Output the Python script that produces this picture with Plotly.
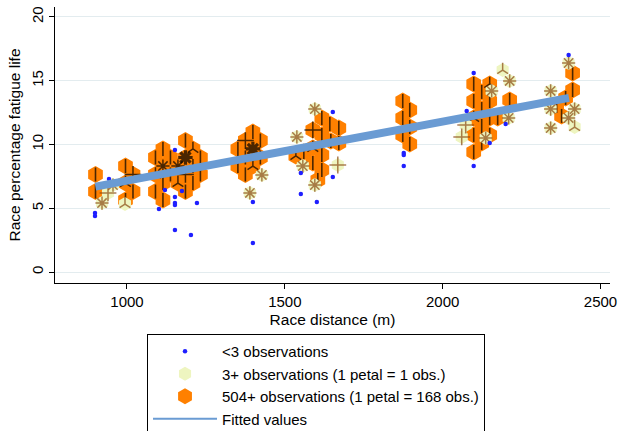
import plotly.graph_objects as go

# ---------------- data ----------------
# sparse observations (<3 observations)
sparse_x = [898.7, 898.7, 943.0, 1151.9, 1120.3, 1174.1, 1151.9, 1151.9, 1151.9, 1221.6,
            1101.3, 1151.9, 1202.6, 1398.8, 1398.8, 1652.0, 1550.7, 1652.0, 1550.7, 1601.4,
            1876.7, 1876.7, 1876.7, 2098.3, 2076.1, 2199.5, 2148.9, 2098.3, 2398.9]
sparse_y = [4.63, 4.39, 7.29, 9.57, 6.43, 6.35, 5.88, 5.41, 5.25, 5.41,
            4.94, 3.29, 2.90, 5.49, 2.27, 12.55, 7.76, 7.45, 6.12, 5.49,
            9.33, 9.18, 8.31, 15.61, 12.63, 11.61, 10.12, 8.31, 17.02]

# light sunflowers (3+ observations, 1 petal = 1 obs.)
light_x = [939.9, 955.7, 920.9, 993.7, 1427.3, 1389.3, 1595.0, 1538.1, 1557.0, 1595.0,
           1667.8, 2190.0, 2212.2, 2155.2, 2209.0, 2072.9, 2060.3, 2136.2, 2398.9, 2342.0,
           2342.0, 2417.9, 2398.9, 2342.0, 2417.9]
light_y = [6.20, 6.82, 5.41, 5.33, 7.61, 6.20, 12.78, 10.59, 8.31, 6.82,
           8.39, 15.84, 14.98, 14.20, 12.08, 11.53, 10.59, 10.51, 16.39, 14.20,
           12.78, 12.78, 12.08, 11.29, 11.37]
light_petals = ["+", "*", "*", "Y", "*", "*", "*", "*", "*", "*",
                "+", "Y", "*", "*", "*", "+", "+", "*", "*", "*",
                "*", "*", "*", "*", "Y"]

# dark sunflowers (504+ observations, 1 petal = 168 obs.)
dark_x = [900.3, 900.3, 995.3, 1019.0, 995.3, 1019.0, 995.3,
          1185.2, 1208.9, 1185.2, 1232.6, 1208.9, 1185.2, 1232.6, 1208.9, 1185.2, 1161.4,
          1161.4, 1137.7, 1137.7, 1113.9, 1113.9, 1113.9, 1090.2, 1090.2, 1090.2, 1113.9,
          1351.3, 1351.3, 1375.0, 1375.0, 1375.0, 1398.8, 1398.8, 1398.8, 1422.5, 1422.5,
          1617.2, 1642.5, 1671.0, 1588.7, 1617.2, 1645.7, 1671.0, 1588.7, 1560.2, 1534.9,
          1617.2, 1588.7, 1617.2, 1604.5,
          1873.5, 1895.7, 1873.5, 1895.7, 1873.5, 1895.7,
          2098.3, 2098.3, 2098.3, 2098.3, 2098.3, 2123.6, 2123.6, 2123.6, 2123.6,
          2148.9, 2148.9, 2148.9, 2148.9, 2174.2, 2212.2,
          2411.6, 2411.6, 2389.4, 2360.9, 2376.7]
dark_y = [7.65, 6.31, 8.31, 7.65, 6.98, 6.31, 5.65,
          10.31, 9.65, 8.98, 8.98, 8.31, 7.65, 7.65, 6.98, 6.31, 8.31,
          6.98, 8.98, 7.65, 8.31, 6.98, 5.65, 8.98, 7.65, 6.31, 9.65,
          9.65, 8.31, 10.31, 8.98, 7.65, 10.98, 9.65, 8.31, 10.31, 8.98,
          12.08, 11.61, 11.29, 11.14, 10.75, 10.27, 10.12, 9.73, 9.41, 9.10,
          9.18, 8.55, 8.00, 7.22,
          13.41, 12.71, 12.08, 11.37, 10.75, 10.04,
          14.75, 13.41, 12.08, 10.75, 9.41, 14.12, 12.78, 11.45, 10.12,
          14.75, 13.41, 12.08, 10.75, 12.08, 13.49,
          15.61, 14.27, 13.65, 13.02, 12.24]
dark_petals = ["|", "|", "|", "+", "Y", "|", "|",
               "|", "Y", "#", "|", "|", "+", "|", "|", "|", "*",
               "Y", "|", "|", "*", "|", "|", "|", "Y", "|", "|",
               "|", "|", "+", "|", "|", "|", "#", "Y", "|", "|",
               "|", "|", "|", "+", "|", "|", "|", "Y", "|", "Y",
               "|", "|", "|", "|",
               "|", "|", "|", "|", "|", "|",
               "|", "|", "Y", "|", "|", "|", "|", "|", "|",
               "Y", "|", "|", "|", "|", "|",
               "|", "|", "|", "|", "|"]

# fitted values
fit_x = [900, 2400]
fit_y = [6.7, 13.65]

x_ticks = [1000, 1500, 2000, 2500]
y_ticks = [0, 5, 10, 15, 20]

# ---------------- styling ----------------
FONT = "Liberation Sans, Arial, sans-serif"
ORANGE = "#ff8000"
LIGHT = "#eef5c0"
BROWN = "#8a4a12"
FITC = "#6a9bd3"

glyph_symbol = {"|": "line-ns", "Y": "y-up", "+": "cross-thin", "*": "asterisk", "#": "asterisk"}
glyph_size = {"|": 10, "Y": 9, "+": 12, "*": 11, "#": 12}
glyph_width = {"|": 1.6, "Y": 1.5, "+": 1.5, "*": 1.5, "#": 3.2}

fig = go.Figure()

fig.add_trace(go.Scatter(
    x=dark_x, y=dark_y, mode="markers", name="504+ observations (1 petal = 168 obs.)",
    marker=dict(symbol="hexagon", size=17, color=ORANGE, line=dict(width=0)),
    legendrank=3, hoverinfo="skip"))
fig.add_trace(go.Scatter(
    x=dark_x, y=dark_y, mode="markers", showlegend=False,
    marker=dict(symbol=[glyph_symbol[g] for g in dark_petals],
                size=[glyph_size[g] for g in dark_petals],
                color="black",
                line=dict(color="black", width=[glyph_width[g] for g in dark_petals])),
    hoverinfo="skip"))
fig.add_trace(go.Scatter(
    x=light_x, y=light_y, mode="markers", name="3+ observations (1 petal = 1 obs.)",
    marker=dict(symbol="hexagon", size=14, color=LIGHT, line=dict(width=0)),
    legendrank=2, hoverinfo="skip"))
fig.add_trace(go.Scatter(
    x=light_x, y=light_y, mode="markers", showlegend=False,
    marker=dict(symbol=[glyph_symbol[g] for g in light_petals],
                size=[glyph_size[g] for g in light_petals],
                color=BROWN,
                line=dict(color=BROWN, width=1.5)),
    hoverinfo="skip"))
fig.add_trace(go.Scatter(
    x=sparse_x, y=sparse_y, mode="markers", name="<3 observations",
    marker=dict(symbol="circle", size=4.5, color="#1f1fff", line=dict(width=0)),
    legendrank=1, hoverinfo="skip"))
fig.add_trace(go.Scatter(
    x=fit_x, y=fit_y, mode="lines", showlegend=False,
    line=dict(color=FITC, width=8),
    hoverinfo="skip"))
# legend entry for the fitted line (thin sample, as in the original legend)
fig.add_trace(go.Scatter(
    x=[None], y=[None], mode="lines", name="Fitted values",
    line=dict(color=FITC, width=2), legendrank=4, hoverinfo="skip"))

fig.update_layout(
    width=618, height=431,
    margin=dict(l=55, r=8, t=7, b=148, autoexpand=False),
    paper_bgcolor="white", plot_bgcolor="white",
    font=dict(family=FONT, size=15, color="black"),
    showlegend=True,
    legend=dict(
        x=0.1658, y=-0.185, xanchor="left", yanchor="top",
        bordercolor="black", borderwidth=1, bgcolor="white",
        font=dict(family=FONT, size=15, color="black"),
        itemwidth=64, tracegroupgap=0, itemsizing="trace",
    ),
    xaxis=dict(
        range=[772, 2530], tickmode="array", tickvals=x_ticks,
        showline=True, linecolor="black", linewidth=1,
        ticks="outside", ticklen=5, tickcolor="black",
        showgrid=False, zeroline=False,
        title=dict(text="Race distance (m)", font=dict(size=15.5), standoff=5),
        tickfont=dict(size=15),
    ),
    yaxis=dict(
        range=[-0.86, 20.78], tickmode="array", tickvals=y_ticks,
        tickangle=-90,
        showline=True, linecolor="black", linewidth=1,
        ticks="outside", ticklen=5, tickcolor="black",
        showgrid=True, gridcolor="#e3ecef", gridwidth=1, zeroline=False,
        title=dict(text="Race percentage fatigue life", font=dict(size=15.5), standoff=4),
        tickfont=dict(size=15),
    ),
)

fig.write_html("out.html", config={"displayModeBar": False})
